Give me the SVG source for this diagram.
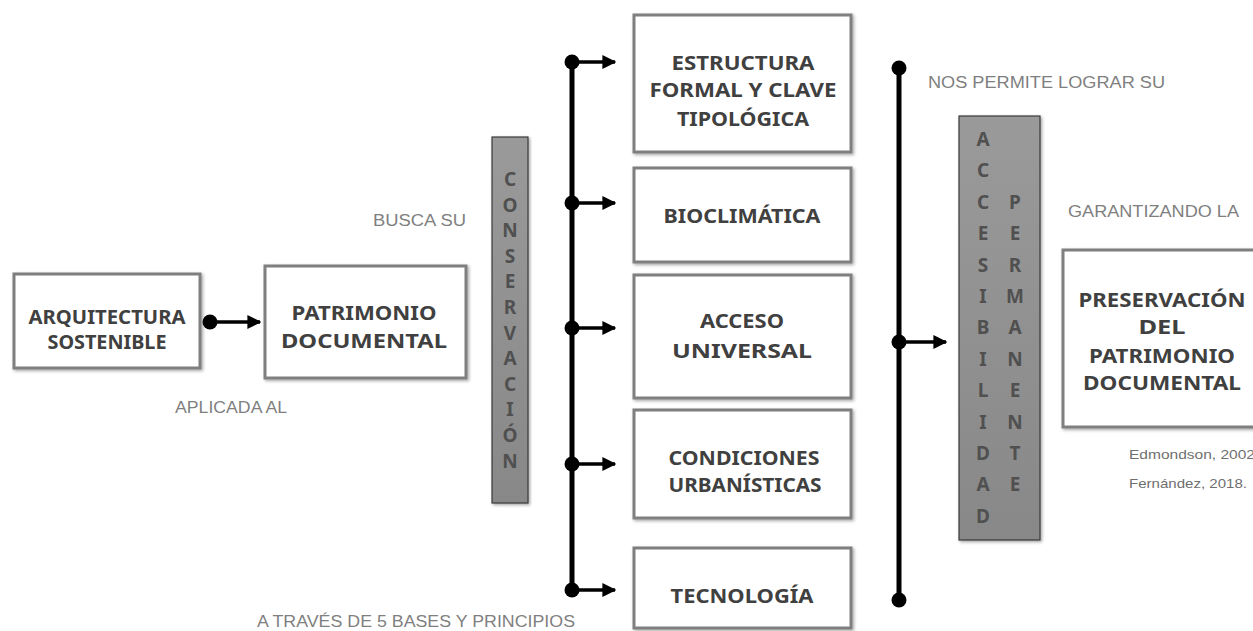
<svg xmlns="http://www.w3.org/2000/svg" width="1253" height="631" viewBox="0 0 1253 631">
<defs>
<filter id="sh" x="-10%" y="-10%" width="120%" height="120%">
<feDropShadow dx="1.5" dy="1.5" stdDeviation="1.5" flood-color="#000" flood-opacity="0.35"/>
</filter>
<linearGradient id="bar" x1="0" y1="0" x2="0" y2="1">
<stop offset="0" stop-color="#9a9a9a"/>
<stop offset="1" stop-color="#888888"/>
</linearGradient>
<marker id="ah" viewBox="0 0 10 10" refX="9" refY="5" markerWidth="4" markerHeight="4" orient="auto" markerUnits="strokeWidth">
<path d="M0,0 L10,5 L0,10 Z" fill="#000"/>
</marker>
<style>
.box{fill:#fff;stroke:#7f7f7f;stroke-width:3;filter:url(#sh)}
.bar{fill:url(#bar);stroke:#3a3a3a;stroke-width:1.2;filter:url(#sh)}
.bt{font-family:"Noto Sans","Open Sans",sans-serif;font-weight:bold;font-size:20px;fill:#404040;text-anchor:middle}
.vt{font-family:"Noto Sans","Open Sans",sans-serif;font-weight:bold;font-size:19px;fill:#505050;text-anchor:middle}
.lab{font-family:"Liberation Sans",Arial,sans-serif;font-size:16px;fill:#7f7f7f}
.ref{font-family:"Liberation Sans",Arial,sans-serif;font-size:13px;fill:#6f6f6f}
.ln{stroke:#000;stroke-width:5;fill:none}
.ar{stroke:#000;stroke-width:3.5;fill:none;marker-end:url(#ah)}
.dot{fill:#000}
</style>
</defs>
<rect width="1253" height="631" fill="#fff"/>

<g id="connectors">
<line class="ln" x1="572" y1="60" x2="572" y2="590"/>
<line class="ln" x1="899" y1="68" x2="899" y2="600"/>
<line class="ar" x1="210" y1="322" x2="260" y2="322"/>
<line class="ar" x1="572" y1="62" x2="615" y2="62"/>
<line class="ar" x1="572" y1="203" x2="615" y2="203"/>
<line class="ar" x1="572" y1="328" x2="615" y2="328"/>
<line class="ar" x1="572" y1="464" x2="615" y2="464"/>
<line class="ar" x1="572" y1="590" x2="615" y2="590"/>
<line class="ar" x1="899" y1="342" x2="946" y2="342"/>
<circle class="dot" cx="210" cy="322" r="7.5"/>
<circle class="dot" cx="572" cy="62" r="7.5"/>
<circle class="dot" cx="572" cy="203" r="7.5"/>
<circle class="dot" cx="572" cy="328" r="7.5"/>
<circle class="dot" cx="572" cy="464" r="7.5"/>
<circle class="dot" cx="572" cy="590" r="7.5"/>
<circle class="dot" cx="899" cy="68" r="7.5"/>
<circle class="dot" cx="899" cy="342" r="7.5"/>
<circle class="dot" cx="899" cy="600" r="7.5"/>
</g>

<g id="n-arquitectura">
<rect class="box" x="14" y="274" width="186" height="94"/>
<text class="bt" x="107" y="324" font-size="18.5" textLength="157" lengthAdjust="spacingAndGlyphs">ARQUITECTURA</text>
<text class="bt" x="107" y="349" font-size="18.5" textLength="119" lengthAdjust="spacingAndGlyphs">SOSTENIBLE</text>
</g>

<g id="n-patrimonio">
<rect class="box" x="265" y="266" width="201" height="112"/>
<text class="bt" x="364" y="320" textLength="145" lengthAdjust="spacingAndGlyphs">PATRIMONIO</text>
<text class="bt" x="364" y="348" textLength="166" lengthAdjust="spacingAndGlyphs">DOCUMENTAL</text>
</g>

<g id="n-conservacion">
<rect class="bar" x="492" y="137" width="36" height="366"/>
<text class="vt">
<tspan x="510" y="186">C</tspan><tspan x="510" y="211.6">O</tspan><tspan x="510" y="237.2">N</tspan><tspan x="510" y="262.8">S</tspan><tspan x="510" y="288.4">E</tspan><tspan x="510" y="314">R</tspan><tspan x="510" y="339.6">V</tspan><tspan x="510" y="365.2">A</tspan><tspan x="510" y="390.8">C</tspan><tspan x="510" y="416.4">I</tspan><tspan x="510" y="442">Ó</tspan><tspan x="510" y="467.6">N</tspan>
</text>
</g>

<g id="n-estructura">
<rect class="box" x="634" y="15" width="217" height="137"/>
<text class="bt" x="743" y="70" textLength="143" lengthAdjust="spacingAndGlyphs">ESTRUCTURA</text>
<text class="bt" x="743" y="97" textLength="187" lengthAdjust="spacingAndGlyphs">FORMAL Y CLAVE</text>
<text class="bt" x="743" y="126" textLength="132" lengthAdjust="spacingAndGlyphs">TIPOLÓGICA</text>
</g>

<g id="n-bioclimatica">
<rect class="box" x="634" y="168" width="217" height="94"/>
<text class="bt" x="742" y="223" font-size="21" textLength="157" lengthAdjust="spacingAndGlyphs">BIOCLIMÁTICA</text>
</g>

<g id="n-acceso">
<rect class="box" x="634" y="275" width="217" height="123"/>
<text class="bt" x="742" y="328" font-size="21" textLength="84" lengthAdjust="spacingAndGlyphs">ACCESO</text>
<text class="bt" x="742" y="358" font-size="21" textLength="140" lengthAdjust="spacingAndGlyphs">UNIVERSAL</text>
</g>

<g id="n-condiciones">
<rect class="box" x="634" y="410" width="217" height="108"/>
<text class="bt" x="744" y="465" font-size="19.5" textLength="151" lengthAdjust="spacingAndGlyphs">CONDICIONES</text>
<text class="bt" x="745" y="492" font-size="19.5" textLength="153" lengthAdjust="spacingAndGlyphs">URBANÍSTICAS</text>
</g>

<g id="n-tecnologia">
<rect class="box" x="634" y="548" width="217" height="80"/>
<text class="bt" x="742" y="603" font-size="21" textLength="143" lengthAdjust="spacingAndGlyphs">TECNOLOGÍA</text>
</g>

<g id="n-accesibilidad">
<rect class="bar" x="959" y="116" width="81" height="424"/>
<text class="vt" font-size="21">
<tspan x="983" y="146">A</tspan><tspan x="983" y="177.4">C</tspan><tspan x="983" y="208.8">C</tspan><tspan x="983" y="240.2">E</tspan><tspan x="983" y="271.6">S</tspan><tspan x="983" y="303">I</tspan><tspan x="983" y="334.4">B</tspan><tspan x="983" y="365.8">I</tspan><tspan x="983" y="397.2">L</tspan><tspan x="983" y="428.6">I</tspan><tspan x="983" y="460">D</tspan><tspan x="983" y="491.4">A</tspan><tspan x="983" y="522.8">D</tspan>
</text>
<text class="vt" font-size="21">
<tspan x="1015" y="208.8">P</tspan><tspan x="1015" y="240.2">E</tspan><tspan x="1015" y="271.6">R</tspan><tspan x="1015" y="303">M</tspan><tspan x="1015" y="334.4">A</tspan><tspan x="1015" y="365.8">N</tspan><tspan x="1015" y="397.2">E</tspan><tspan x="1015" y="428.6">N</tspan><tspan x="1015" y="460">T</tspan><tspan x="1015" y="491.4">E</tspan>
</text>
</g>

<g id="n-preservacion">
<rect class="box" x="1063" y="250" width="200" height="177"/>
<text class="bt" x="1162" y="307" textLength="167" lengthAdjust="spacingAndGlyphs">PRESERVACIÓN</text>
<text class="bt" x="1162" y="334" textLength="47" lengthAdjust="spacingAndGlyphs">DEL</text>
<text class="bt" x="1162" y="363" textLength="146" lengthAdjust="spacingAndGlyphs">PATRIMONIO</text>
<text class="bt" x="1162" y="390" textLength="158" lengthAdjust="spacingAndGlyphs">DOCUMENTAL</text>
</g>

<g id="labels">
<text class="lab" x="175" y="413" textLength="112" lengthAdjust="spacingAndGlyphs">APLICADA AL</text>
<text class="lab" x="373" y="226" textLength="93" lengthAdjust="spacingAndGlyphs">BUSCA SU</text>
<text class="lab" x="928" y="88" textLength="237" lengthAdjust="spacingAndGlyphs">NOS PERMITE LOGRAR SU</text>
<text class="lab" x="1068" y="217" textLength="171" lengthAdjust="spacingAndGlyphs">GARANTIZANDO LA</text>
<text class="lab" x="257" y="627" textLength="318" lengthAdjust="spacingAndGlyphs">A TRAVÉS DE 5 BASES Y PRINCIPIOS</text>
<text class="ref" x="1129" y="459" textLength="126" lengthAdjust="spacingAndGlyphs">Edmondson, 2002</text>
<text class="ref" x="1129" y="488" textLength="118" lengthAdjust="spacingAndGlyphs">Fernández, 2018.</text>
</g>
</svg>
